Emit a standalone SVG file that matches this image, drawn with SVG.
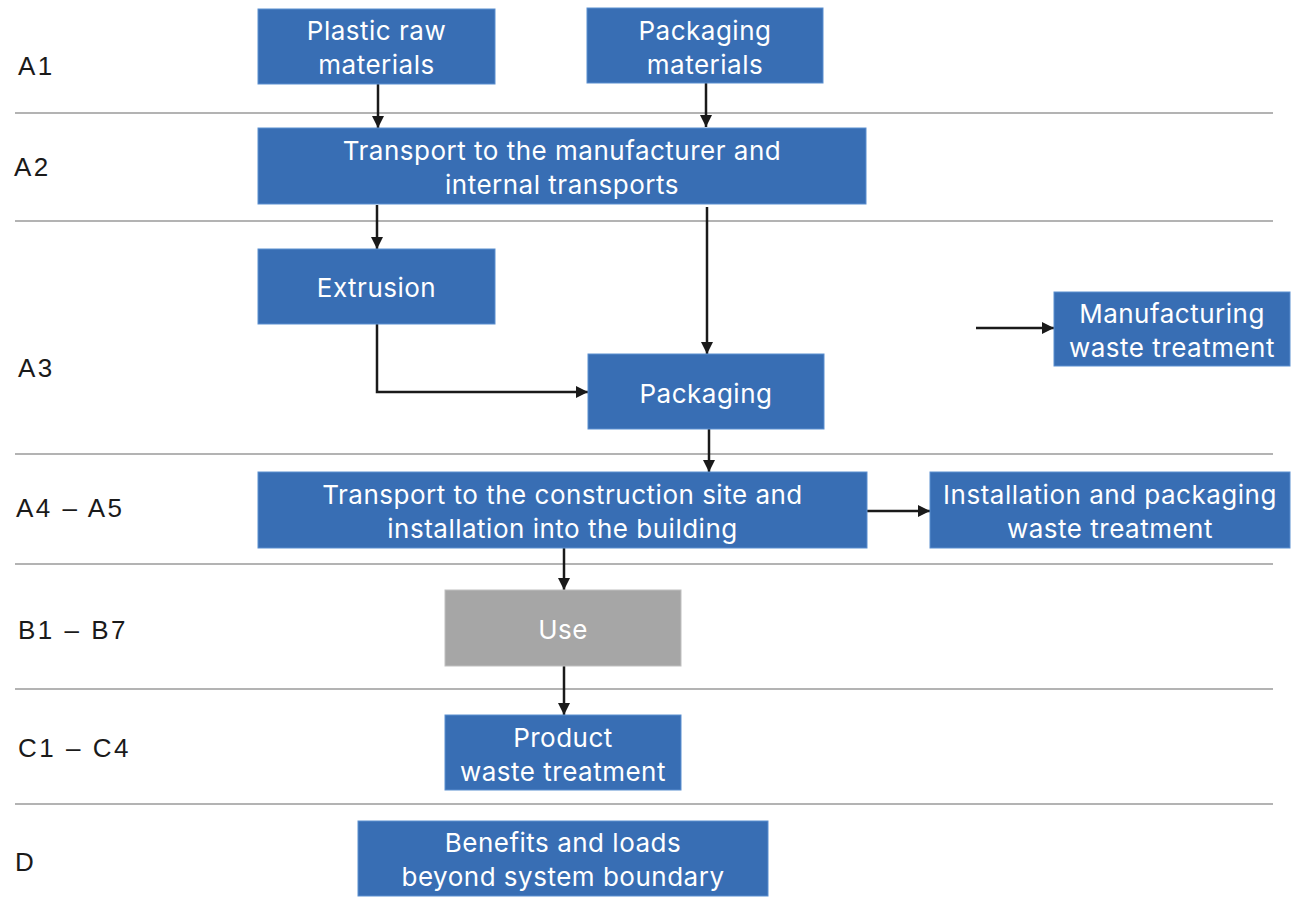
<svg xmlns="http://www.w3.org/2000/svg" width="1295" height="897" viewBox="0 0 1295 897">
<style>
.box{fill:#386EB4;stroke:#5b8fd0;stroke-width:1}
.gray{fill:#A6A6A6;stroke:#c0c0c0;stroke-width:1}
.t{font-family:Inter,Roboto,"Liberation Sans",sans-serif;font-size:26px;letter-spacing:0.5px;fill:#ffffff;text-anchor:middle;dominant-baseline:central}
.lab{font-family:"Liberation Sans",Arial,sans-serif;font-size:26px;letter-spacing:2.5px;fill:#1a1a1a}
.sep{stroke:#9a9a9a;stroke-width:1.5}
.c{stroke:#1a1a1a;stroke-width:2.5;fill:none;marker-end:url(#ah)}
</style>
<defs>
<marker id="ah" markerWidth="12" markerHeight="12" refX="10" refY="5" orient="auto" markerUnits="userSpaceOnUse" viewBox="0 0 10 10">
<path d="M0,0 L10,5 L0,10 z" fill="#1a1a1a"/>
</marker>
</defs>
<rect width="1295" height="897" fill="#ffffff"/>
<g id="separators">
<line class="sep" x1="15" y1="113" x2="1273" y2="113"/>
<line class="sep" x1="15" y1="221" x2="1273" y2="221"/>
<line class="sep" x1="15" y1="454" x2="1273" y2="454"/>
<line class="sep" x1="15" y1="564" x2="1273" y2="564"/>
<line class="sep" x1="15" y1="689" x2="1273" y2="689"/>
<line class="sep" x1="15" y1="804" x2="1273" y2="804"/>
</g>
<g id="labels">
<text class="lab" x="18" y="75">A1</text>
<text class="lab" x="14" y="176">A2</text>
<text class="lab" x="18" y="377">A3</text>
<text class="lab" x="16" y="517">A4 – A5</text>
<text class="lab" x="18" y="639">B1 – B7</text>
<text class="lab" x="18" y="757">C1 – C4</text>
<text class="lab" x="15" y="871">D</text>
</g>
<g id="connectors">
<line class="c" x1="378" y1="84" x2="378" y2="128"/>
<line class="c" x1="706" y1="83" x2="706" y2="127"/>
<line class="c" x1="377" y1="205" x2="377" y2="249"/>
<line class="c" x1="707" y1="207" x2="707" y2="354"/>
<polyline class="c" points="377,324 377,392 588,392"/>
<line class="c" x1="976" y1="328" x2="1054" y2="328"/>
<line class="c" x1="709" y1="429" x2="709" y2="472"/>
<line class="c" x1="867" y1="511" x2="930" y2="511"/>
<line class="c" x1="564" y1="548" x2="564" y2="590"/>
<line class="c" x1="564" y1="666" x2="564" y2="715"/>
</g>
<g id="plastic-raw-materials">
<rect class="box" x="258" y="9" width="237" height="75"/>
<text class="t" x="376.5" y="30">Plastic raw</text>
<text class="t" x="376.5" y="64">materials</text>
</g>
<g id="packaging-materials">
<rect class="box" x="587" y="8" width="236" height="75"/>
<text class="t" x="705" y="30">Packaging</text>
<text class="t" x="705" y="64">materials</text>
</g>
<g id="transport-manufacturer">
<rect class="box" x="258" y="128" width="608" height="76"/>
<text class="t" x="562" y="150">Transport to the manufacturer and</text>
<text class="t" x="562" y="184">internal transports</text>
</g>
<g id="extrusion">
<rect class="box" x="258" y="249" width="237" height="75"/>
<text class="t" x="376.5" y="287">Extrusion</text>
</g>
<g id="packaging">
<rect class="box" x="588" y="354" width="236" height="75"/>
<text class="t" x="706" y="393">Packaging</text>
</g>
<g id="manufacturing-waste">
<rect class="box" x="1054" y="292" width="236" height="74"/>
<text class="t" x="1172" y="313">Manufacturing</text>
<text class="t" x="1172" y="347">waste treatment</text>
</g>
<g id="transport-construction">
<rect class="box" x="258" y="472" width="609" height="76"/>
<text class="t" x="562.5" y="494">Transport to the construction site and</text>
<text class="t" x="562.5" y="528">installation into the building</text>
</g>
<g id="installation-waste">
<rect class="box" x="930" y="472" width="360" height="76"/>
<text class="t" x="1110" y="494">Installation and packaging</text>
<text class="t" x="1110" y="528">waste treatment</text>
</g>
<g id="use">
<rect class="gray" x="445" y="590" width="236" height="76"/>
<text class="t" x="563" y="629">Use</text>
</g>
<g id="product-waste">
<rect class="box" x="445" y="715" width="236" height="75"/>
<text class="t" x="563" y="737">Product</text>
<text class="t" x="563" y="771">waste treatment</text>
</g>
<g id="benefits-loads">
<rect class="box" x="358" y="821" width="410" height="75"/>
<text class="t" x="563" y="842">Benefits and loads</text>
<text class="t" x="563" y="876">beyond system boundary</text>
</g>
</svg>
